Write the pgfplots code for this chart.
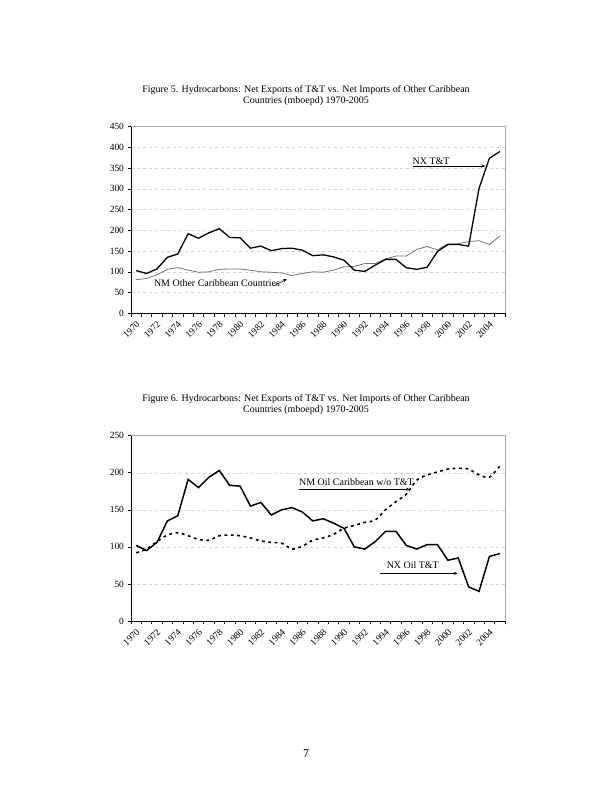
\documentclass[border=0pt]{standalone}
\usepackage{fontspec}
\setmainfont{Liberation Serif}
\usepackage{pgfplots}
\usepackage{pgfplotstable}
\pgfplotsset{compat=1.18}
\usetikzlibrary{arrows.meta}

% Figure 5: total hydrocarbons (mboepd), index 0 = 1970
\pgfplotstableread{
idx nx  nm
0   103 81
1   96  84
2   107 93
3   135 106
4   143 110
5   192 104
6   181 99
7   194 100
8   204 106
9   183 107
10  182 107
11  157 104
12  162 100
13  151 99
14  156 97
15  157 91
16  152 96
17  139 100
18  141 99
19  136 104
20  128 112
21  104 113
22  101 120
23  116 120
24  130 131
25  130 138
26  110 138
27  106 154
28  111 161
29  149 153
30  166 167
31  166 168
32  162 173
33  301 175
34  374 166
35  390 186
}\figfive

% Figure 6: oil only (mboepd)
\pgfplotstableread{
idx nx  nm
0   102 92
1   95  97
2   106 107
3   135 116
4   142 119
5   191 115
6   180 110
7   194 109
8   203 115
9   183 116
10  182 115
11  155 112
12  160 108
13  143 106
14  150 105
15  153 97
16  147 101
17  135 109
18  138 112
19  132 117
20  125 125
21  100 129
22  97  133
23  107 136
24  121 150
25  121 161
26  102 171
27  97  190
28  103 197
29  103 201
30  82  205
31  85  206
32  46  205
33  40  197
34  87  194
35  91  209
}\figsix

\pgfplotsset{
  caribaxis/.style={
    scale only axis,
    width=374bp,
    xmin=-0.5, xmax=35.5, ymin=0,
    clip=false,
    axis x line*=bottom, axis y line*=left,
    axis line style={black, line width=0.9pt, -},
    xtick={0,2,...,34},
    xticklabels={1970,1972,1974,1976,1978,1980,1982,1984,1986,1988,1990,1992,1994,1996,1998,2000,2002,2004},
    major x tick style={draw=none},
    minor xtick={-0.5,0.5,...,35.5},
    minor tick length=3.5bp, major tick length=3.5bp,
    tick align=outside,
    tick style={black, line width=0.6pt},
    x tick label style={rotate=45, anchor=north east, xshift=0.5bp, yshift=1bp, font=\fontsize{9.5}{9.5}\selectfont},
    y tick label style={font=\fontsize{9.5}{9.5}\selectfont},
    ymajorgrids,
    grid style={dashed, gray!35, line width=0.5pt},
    /pgf/number format/assume math mode=true,
  },
}
\tikzset{
  note/.style={anchor=west, inner sep=0pt, font=\fontsize{10}{10}\selectfont},
  notearrow/.style={-{Stealth[length=4bp, width=3bp]}, line width=0.5pt},
}

\begin{document}
\begin{tikzpicture}
\useasboundingbox (0,0) rectangle (612bp,792bp);

% titles and page number
\node[anchor=base, font=\fontsize{10}{10}\selectfont] at (306bp,699.3bp)
  {Figure 5. Hydrocarbons: Net Exports of T\&T vs. Net Imports of Other Caribbean};
\node[anchor=base, font=\fontsize{10}{10}\selectfont] at (306bp,688.5bp)
  {Countries (mboepd) 1970-2005};
\node[anchor=base, font=\fontsize{10}{10}\selectfont] at (306bp,390.3bp)
  {Figure 6. Hydrocarbons: Net Exports of T\&T vs. Net Imports of Other Caribbean};
\node[anchor=base, font=\fontsize{10}{10}\selectfont] at (306bp,379.3bp)
  {Countries (mboepd) 1970-2005};
\node[anchor=base, font=\fontsize{12}{12}\selectfont] at (306bp,35bp) {7};

% Figure 5
\begin{axis}[caribaxis, at={(131bp,478.7bp)}, anchor=south west,
  height=186.6bp, ymax=450, ytick={0,50,...,450}]
  \addplot[black!55, line width=0.8pt] table[x=idx, y=nm] {\figfive};
  \addplot[black, line width=1.3pt] table[x=idx, y=nx] {\figfive};
  \draw[gray!70, line width=0.7pt] (rel axis cs:0,1) -- (rel axis cs:1,1) -- (rel axis cs:1,0);
  \node[note] at (axis cs:26.6,367) {NX T\&T};
  \draw[notearrow] (axis cs:26.6,355) -- (axis cs:33.6,355);
  \node[note] at (axis cs:1.7,73) {NM Other Caribbean Countries};
  \draw[notearrow] (axis cs:13.2,65.8) -- (axis cs:14.5,82.7);
\end{axis}

% Figure 6
\begin{axis}[caribaxis, at={(131bp,171bp)}, anchor=south west,
  height=185.3bp, ymax=250, ytick={0,50,...,250}]
  \addplot[black, line width=1.6pt, dash pattern=on 2.8pt off 3.6pt, smooth, tension=0.4] table[x=idx, y=nm] {\figsix};
  \addplot[black, line width=1.5pt] table[x=idx, y=nx] {\figsix};
  \draw[gray!70, line width=0.7pt] (rel axis cs:0,1) -- (rel axis cs:1,1) -- (rel axis cs:1,0);
  \node[note] at (axis cs:15.67,188) {NM Oil Caribbean w/o T\&T};
  \draw[notearrow] (axis cs:15.67,177.7) -- (axis cs:26.35,177.7);
  \node[note] at (axis cs:24.1,75.5) {NX Oil T\&T};
  \draw[notearrow] (axis cs:23.47,64.3) -- (axis cs:30.94,64.3);
\end{axis}
\end{tikzpicture}
\end{document}
